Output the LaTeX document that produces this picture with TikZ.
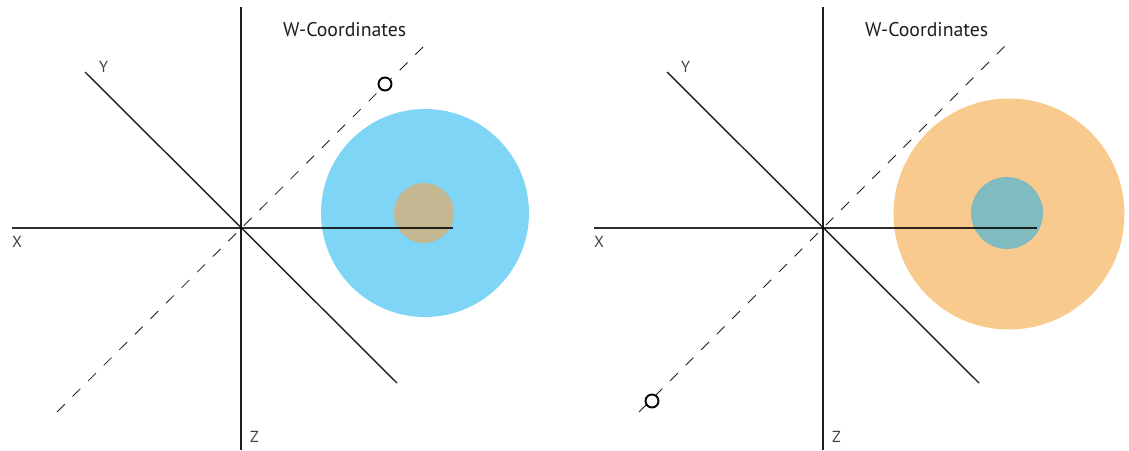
\documentclass[tikz,border=0pt]{standalone}
\usepackage{fontspec}
\setmainfont{PT Sans}
\definecolor{cblue}{HTML}{7FD5F5}
\definecolor{ctan}{HTML}{C4B893}
\definecolor{corange}{HTML}{F8CA8E}
\definecolor{cteal}{HTML}{80BCBF}
\definecolor{axisc}{HTML}{1E1E1E}
\begin{document}
\begin{tikzpicture}[x=1pt,y=-1pt,
  axis/.style={draw=axisc,line width=1.4pt},
  xaxis/.style={draw=black,line width=1.5pt,draw opacity=0.82},
  dashline/.style={draw=axisc,line width=0.8pt,dash pattern=on 11pt off 11pt},
  marker/.style={draw=black,line width=1.9pt,circle,minimum size=13pt,inner sep=0pt},
  title/.style={font=\fontsize{19.8}{22}\selectfont,text=axisc,inner sep=0pt,anchor=base west},
  lbl/.style={font=\fontsize{16}{18}\selectfont,text=axisc!85,inner sep=0pt,anchor=base west}]
\useasboundingbox (0,0) rectangle (1129,450);
% ---------- left panel ----------
\fill[cblue] (425,213) circle[radius=104];
\fill[ctan] (424,213) circle[radius=30];
\coordinate (LO) at (241,228);
\coordinate (LXa) at (12,228);
\coordinate (LXb) at (453,228);
\coordinate (LZa) at (241,7);
\coordinate (LZb) at (241,450);
\coordinate (LYa) at (85,72);
\coordinate (LYb) at (397,383);
\coordinate (LDa) at (57,412);
\coordinate (LDb) at (425,45);
\draw[dashline] (LDa) -- (LDb);
\draw[axis] (LYa) -- (LYb);
\draw[axis] (LZa) -- (LZb);
\draw[xaxis] (LXa) -- (LXb);
\node[marker,fill=white] (LM) at (385,84) {};
\node[title] (LT) at (283,36) {W-Coordinates};
\node[lbl] (LXl) at (12,247) {X};
\node[lbl] (LYl) at (99,72) {Y};
\node[lbl] (LZl) at (250,442) {Z};
% ---------- right panel ----------
\fill[corange] (1009,214) circle[radius=115.5];
\fill[cteal] (1007,213) circle[radius=36];
\coordinate (RO) at (823,228);
\coordinate (RXa) at (594,228);
\coordinate (RXb) at (1037,228);
\coordinate (RZa) at (823,7);
\coordinate (RZb) at (823,450);
\coordinate (RYa) at (667,72);
\coordinate (RYb) at (979,383);
\coordinate (RDa) at (639,412);
\coordinate (RDb) at (1006,45);
\draw[dashline] (RDa) -- (RDb);
\draw[axis] (RYa) -- (RYb);
\draw[axis] (RZa) -- (RZb);
\draw[xaxis] (RXa) -- (RXb);
\node[marker,fill=white] (RM) at (652,401) {};
\node[title] (RT) at (865,36) {W-Coordinates};
\node[lbl] (RXl) at (594,247) {X};
\node[lbl] (RYl) at (681,72) {Y};
\node[lbl] (RZl) at (832,442) {Z};
\end{tikzpicture}
\end{document}
